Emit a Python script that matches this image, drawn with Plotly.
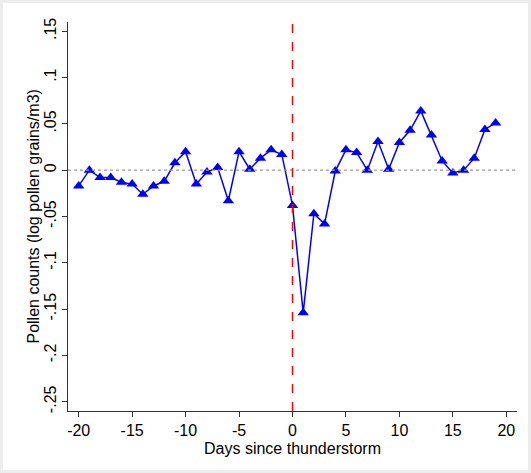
import plotly.graph_objects as go

days = list(range(-20, 20))
pollen = [-0.017, 0.000, -0.008, -0.008, -0.013, -0.015, -0.026, -0.017, -0.012, 0.008,
          0.020, -0.015, -0.002, 0.003, -0.033, 0.020, 0.001, 0.013, 0.022, 0.017,
          -0.038, -0.154, -0.047, -0.058, -0.001, 0.022, 0.019, 0.000, 0.031, 0.001,
          0.030, 0.043, 0.064, 0.038, 0.010, -0.003, 0.000, 0.013, 0.044, 0.051]

x_ticks = [-20, -15, -10, -5, 0, 5, 10, 15, 20]
x_ticktext = ["-20", "-15", "-10", "-5", "0", "5", "10", "15", "20"]
y_ticks = [0.15, 0.1, 0.05, 0, -0.05, -0.1, -0.15, -0.2, -0.25]
y_ticktext = [".15", ".1", ".05", "0", "-.05", "-.1", "-.15", "-.2", "-.25"]

W, H = 531, 473
ml, mr, mt, mb = 68, 14, 22, 62
pw, ph = W - ml - mr, H - mt - mb

fig = go.Figure()
fig.add_trace(go.Scatter(
    x=days, y=pollen, mode="lines+markers",
    line=dict(color="#0000ff", width=1.5),
    marker=dict(symbol="triangle-up", size=10, color="#0000ff"),
    showlegend=False,
))

fig.add_shape(type="line", xref="paper", x0=0, x1=1, yref="y", y0=0, y1=0,
              line=dict(color="#999999", width=1.2, dash="dot"))
fig.add_shape(type="line", xref="x", x0=0, x1=0, yref="paper", y0=0, y1=1,
              line=dict(color="#ff0000", width=1.5, dash="dash"))
fig.add_shape(type="rect", xref="paper", yref="paper",
              x0=-ml / pw, x1=1 + mr / pw, y0=-mb / ph, y1=1 + mt / ph,
              line=dict(color="#ececec", width=6), layer="below")

font = dict(family="Liberation Sans, Arial, sans-serif", size=16, color="#000000")

fig.add_annotation(text="Pollen counts (log pollen grains/m3)", xref="paper", yref="paper",
                   x=(33 - ml) / pw, y=0.5, textangle=-90, showarrow=False,
                   xanchor="center", yanchor="middle", font=font)

fig.update_layout(
    width=W, height=H,
    margin=dict(l=ml, r=mr, t=mt, b=mb),
    paper_bgcolor="white", plot_bgcolor="white",
    font=font,
    xaxis=dict(range=[-21, 21], tickvals=x_ticks, ticktext=x_ticktext,
               ticks="outside", ticklen=5,
               tickcolor="#333333", showline=True, linecolor="#333333", linewidth=1.2,
               showgrid=False, zeroline=False, tickfont=font,
               title=dict(text="Days since thunderstorm", font=font, standoff=4)),
    yaxis=dict(range=[-0.26, 0.16], tickvals=y_ticks, ticktext=y_ticktext,
               ticks="outside", ticklen=5, tickangle=-90,
               tickcolor="#333333", showline=True, linecolor="#333333", linewidth=1.2,
               showgrid=False, zeroline=False, tickfont=font),
)

fig.write_html("out.html")
